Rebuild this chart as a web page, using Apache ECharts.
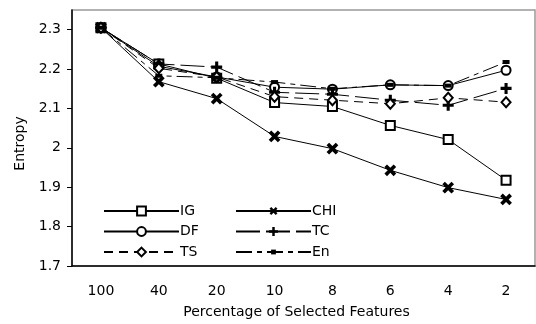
<!DOCTYPE html>
<html>
<head>
<meta charset="utf-8">
<script src="https://cdn.jsdelivr.net/npm/echarts@6/dist/echarts.min.js"></script>
<style>
  html, body { margin: 0; padding: 0; background: #fff; }
  #chart { width: 536px; height: 324px; }
</style>
</head>
<body>
<div id="chart"></div>
<script>
// x categories (percentage of selected features)
const categories = ["100", "40", "20", "10", "8", "6", "4", "2"];

// entropy per method
const igValues  = [2.305, 2.213, 2.177, 2.115, 2.105, 2.057, 2.021, 1.918];
const chiValues = [2.305, 2.168, 2.125, 2.029, 1.998, 1.943, 1.899, 1.869];
const dfValues  = [2.305, 2.207, 2.180, 2.154, 2.149, 2.160, 2.158, 2.197];
const tcValues  = [2.305, 2.213, 2.205, 2.141, 2.136, 2.121, 2.108, 2.151];
const tsValues  = [2.305, 2.202, 2.180, 2.130, 2.121, 2.112, 2.127, 2.116];
const enValues  = [2.305, 2.183, 2.178, 2.167, 2.150, 2.160, 2.158, 2.218];

const yTicks = { min: 1.7, max: 2.35, step: 0.1 };

const FONT = "DejaVu Sans, sans-serif";
// thick plus, rotated 45 deg it becomes the X of CHI
const plusPath = "path://M3.6,0H6.4V3.6H10V6.4H6.4V10H3.6V6.4H0V3.6H3.6Z";

// helper for one line series
function makeSeries(name, data, symbol, opts) {
    return Object.assign({
        name: name,
        type: "line",
        data: data,
        symbol: symbol,
        symbolSize: 9,
        showAllSymbol: true,
        animation: false,
        lineStyle: { color: "#000", width: 1, type: "solid" },
        itemStyle: { color: "#fff", borderColor: "#000", borderWidth: 2 },
        emphasis: { disabled: true },
    }, opts || {});
}

const seriesList = [
    makeSeries("IG", igValues, "rect"),
    makeSeries("CHI", chiValues, plusPath, {
        symbolSize: 13,
        symbolRotate: 45,
        itemStyle: { color: "#000", borderWidth: 0 },
    }),
    makeSeries("DF", dfValues, "circle"),
    makeSeries("TC", tcValues, plusPath, {
        symbolSize: 11,
        lineStyle: { color: "#000", width: 1, type: [24, 6] },
        itemStyle: { color: "#000", borderWidth: 0 },
    }),
    makeSeries("TS", tsValues, "diamond", {
        symbolSize: [9, 10],
        lineStyle: { color: "#000", width: 1, type: [9, 6] },
    }),
    makeSeries("En", enValues, "rect", {
        symbolSize: [7, 4],
        lineStyle: { color: "#000", width: 1, type: [16, 5, 5, 5] },
        itemStyle: { color: "#000", borderWidth: 0 },
    }),
];

function legendBlock(left, top, names, iconH) {
    return {
        data: names,
        orient: "vertical",
        left: left,
        top: top,
        itemWidth: 75,
        itemHeight: iconH,
        itemGap: 6.5,
        selectedMode: false,
        textStyle: { fontFamily: FONT, fontSize: 14, color: "#000", padding: [0, 0, 0, -4] },
    };
}

const chart = echarts.init(document.getElementById("chart"), null, { renderer: "canvas" });

chart.setOption({
    animation: false,
    backgroundColor: "#fff",
    grid: {
        left: 72,
        top: 10,
        right: 1,
        bottom: 57,
        show: true,
        borderColor: "#999",
        borderWidth: 1.5,
    },
    legend: [
        legendBlock(98, 199, ["IG", "DF", "TS"], 11),
        legendBlock(230, 199, ["CHI", "TC"], 11),
        legendBlock(230, 240, ["En"], 6),
    ],
    xAxis: {
        type: "category",
        data: categories,
        boundaryGap: true,
        axisLine: { lineStyle: { color: "#000", width: 1.5 } },
        axisTick: { inside: true, length: 5, interval: 0, lineStyle: { color: "#000" } },
        axisLabel: { fontFamily: FONT, fontSize: 14, color: "#000", margin: 18 },
        name: "Percentage of Selected Features",
        nameLocation: "middle",
        nameGap: 39,
        nameTextStyle: { fontFamily: FONT, fontSize: 14, color: "#000", padding: [0, 14, 0, 0] },
        splitLine: { show: false },
    },
    yAxis: {
        type: "value",
        min: yTicks.min,
        max: yTicks.max,
        interval: yTicks.step,
        axisLine: { show: true, lineStyle: { color: "#000", width: 1.5 } },
        axisTick: { show: true, length: 5, lineStyle: { color: "#000" } },
        axisLabel: {
            fontFamily: FONT, fontSize: 14, color: "#000", margin: 11,
            showMaxLabel: false,
            formatter: (v) => String(Math.round(v * 10) / 10),
        },
        name: "Entropy",
        nameLocation: "middle",
        nameGap: 42,
        nameTextStyle: { fontFamily: FONT, fontSize: 14, color: "#000", padding: [0, 11, 0, 0] },
        splitLine: { show: false },
    },
    series: seriesList,
});
</script>
</body>
</html>
